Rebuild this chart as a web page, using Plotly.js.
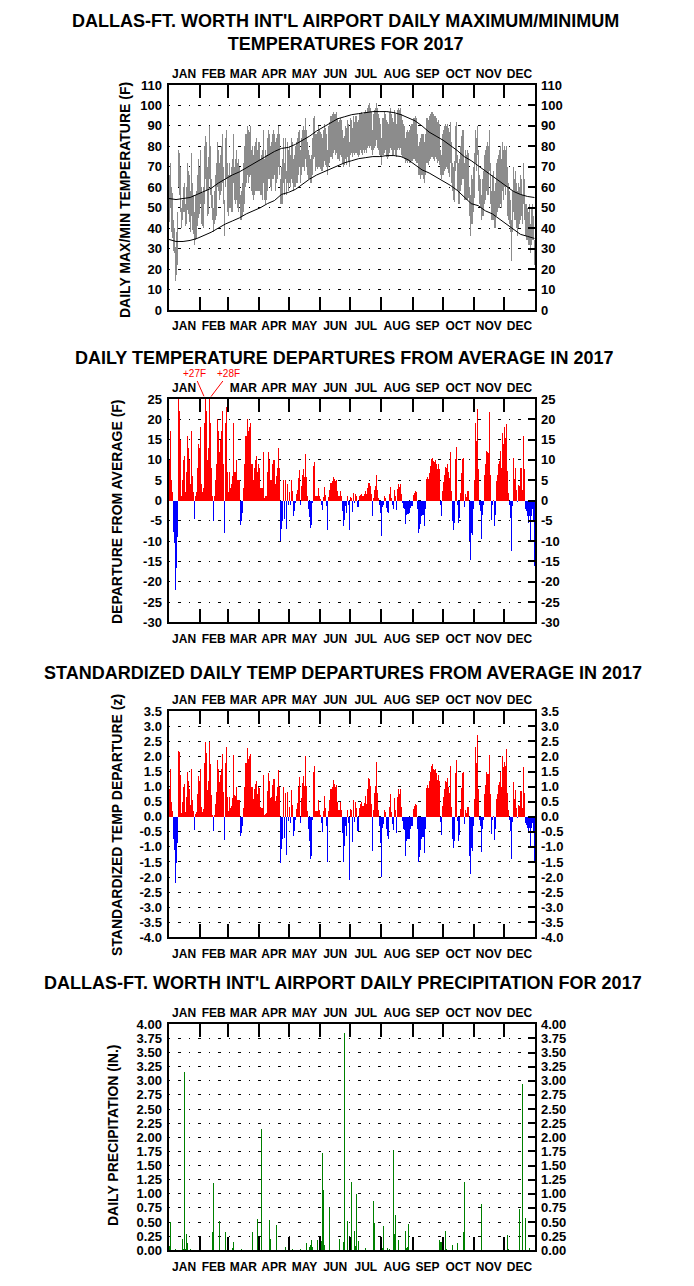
<!DOCTYPE html>
<html><head><meta charset="utf-8">
<script src="https://cdn.plot.ly/plotly-3.0.1.min.js"></script>
<style>html,body{margin:0;padding:0;background:#fff}#c{width:694px;height:1286px}</style>
</head><body><div id="c"></div>
<script>
// ---------- DATA ----------
const months = ['JAN','FEB','MAR','APR','MAY','JUN','JUL','AUG','SEP','OCT','NOV','DEC'];
const monthsPanel2Top = ['JAN','','MAR','APR','MAY','JUN','JUL','AUG','SEP','OCT','NOV','DEC'];
const monthMid = [16,45.5,75,105.5,136,166.5,197,228,258.5,289,319.5,350];
const monthEdge = [31.5,59.5,90.5,120.5,151.5,181.5,212.5,243.5,273.5,304.5,334.5];

// daily max / min temperature (F), Jan 1 .. Dec 31 2017
const tmax = [
66,72,60,57,44,40,31,38,48,78,77,70,50,54,60,62,52,60,72,68,66,58,77,62,56,48,56,58,66,74,70,
78,60,57,60,80,85,82,70,75,90,80,64,56,50,58,66,72,82,78,72,76,80,86,70,54,84,88,72,
66,72,66,70,74,86,70,74,78,72,74,70,56,58,62,72,80,86,86,90,88,87,90,78,80,76,80,82,84,78,82,
82,74,76,78,88,74,78,76,84,88,86,80,82,86,88,86,82,84,86,90,86,64,70,74,84,72,84,68,82,78,
80,76,84,82,74,76,80,82,84,87,88,78,84,88,90,88,94,88,82,78,76,74,76,84,94,95,86,86,87,90,88,
87,86,84,88,91,89,86,78,90,92,95,95,96,97,96,96,97,94,92,93,94,93,88,84,85,90,89,93,91,82,
94,93,89,95,92,95,95,92,93,96,96,97,96,96,97,98,97,99,100,101,99,97,88,96,98,99,101,99,96,94,91,
84,94,94,97,96,93,92,91,97,99,96,94,92,98,96,91,98,99,98,99,96,93,91,90,84,87,88,87,88,90,91,
94,94,95,94,86,80,82,84,86,86,86,82,86,94,94,93,95,96,97,97,96,95,95,94,92,93,91,78,76,86,
88,90,91,90,91,89,87,92,82,72,70,73,90,92,76,72,74,80,85,88,88,72,78,76,78,77,60,56,66,64,70,
77,88,84,90,78,66,64,56,64,68,76,78,80,82,80,88,72,58,66,68,58,62,72,74,76,78,80,74,82,78,
80,78,80,70,62,58,54,44,58,70,64,68,62,58,62,60,66,64,56,72,64,52,52,50,48,52,42,50,52,46,34];
const tmin = [
43,50,38,35,29,28,14,17,22,60,56,48,40,44,48,48,41,42,49,47,43,38,46,39,37,32,34,35,41,45,47,
52,42,41,40,52,64,58,46,47,64,56,50,44,38,42,44,46,60,58,54,56,58,62,52,36,60,64,48,
46,50,50,48,48,62,54,52,54,50,48,52,44,44,46,48,52,60,62,66,62,65,66,58,56,54,56,58,58,58,58,
58,56,56,54,62,54,52,54,58,64,64,60,58,64,64,66,58,62,64,70,66,52,52,52,62,56,64,56,62,58,
62,60,64,62,58,60,60,62,62,66,70,62,66,70,70,68,74,70,66,64,64,62,62,66,74,75,68,70,69,70,70,
69,68,68,70,73,71,70,66,70,72,75,75,74,77,78,76,77,74,74,73,76,75,72,70,71,74,71,75,73,70,
76,77,75,77,76,77,77,76,75,76,78,77,76,78,77,78,77,79,80,79,80,78,76,78,79,80,83,79,78,76,75,
71,76,76,77,78,75,74,75,77,79,78,76,76,78,76,75,78,79,78,79,76,75,75,74,72,73,72,73,72,72,73,
74,74,73,72,72,66,66,64,66,66,64,62,66,72,72,71,73,74,75,75,74,73,75,74,72,73,71,66,64,66,
66,68,69,70,69,67,65,72,62,58,54,53,68,72,58,52,52,58,61,64,64,54,54,54,54,55,46,36,42,42,48,
55,72,68,76,58,52,50,44,46,46,52,54,58,56,56,68,52,44,44,44,40,40,46,48,50,50,52,50,58,54,
60,56,60,46,44,42,38,24,38,48,44,44,40,36,40,42,44,46,42,52,44,36,34,34,32,32,28,32,34,34,22];

// normal max / min (F), read about weekly
const nDay = [1,8,15,22,29,36,43,50,57,64,71,78,85,92,99,106,113,120,127,134,141,148,155,162,169,176,183,190,197,204,211,218,225,232,239,246,253,260,267,274,281,288,295,302,309,316,323,330,337,344,351,358,365];
const nMax = [54.5,54,54.5,55,56.5,58,59.5,62,64,66,67.5,69.5,71.5,73.5,75.5,77.5,79,79.5,81,83,85,87.5,89.5,91.5,93.5,94.5,95.5,96,96.5,97,97,97,96.5,95.5,94,92.5,90,87,85,83,80.5,78,75,73,70.5,68,65.5,63,60.5,58,56.5,55.5,55];
const nMin = [34.5,33.5,33.5,34,35,36.5,38,40,42,43.5,45,47,48.5,50,52,53.5,56.5,57.5,59,61.5,64,66,67.5,69,70.5,72,73,74,74.5,75,75,75.5,75.5,75,73.5,71,68.5,67,65,63,61,58.5,55,52,51,48.5,47,44.5,42,39.5,37,36,35];

// daily departure from average (F)
const dep = [
10,17,5,2,-7.7,-10.4,-22,-16.6,-9,25,22,15,1,5,10,11,2,7,16,13,10,4,17,6,2,-4.5,1,2,8,14,13,
18,4,2,3,19,27,22,10,13,28,19,8,1,-5,1,5,9,20,17,12,15,17,22,9,-8,19,23,7,
2,7,3,4,6,19,7,7,10,5,5,5,-6,-5,-3,3,9,16,16,20,17,18,19,9,9,5,8,10,11,7,9,
8,3,3,3,12,0.5,1,1,7,12,10,5,5,9,10,10,4,6,8,13,8,-10,-7,-5,5,-4.5,5,-7,4,-1,
2,-1.2,5,2.3,-3.7,-2.6,-0.6,1.5,2.6,5.6,7.5,-1.2,3.5,6.4,7.7,5.8,11.4,5.8,1,-2.2,-4,-6.7,-6.1,-0.6,8.5,9.5,1,1,1,3.1,1.2,
0.3,-1,-2.4,0.9,3.3,1.4,-1.4,-7.2,0.9,2.7,4.4,4.4,4.8,5.8,5.2,4.8,5,2.3,1,1,2.3,1,-2.6,-6.3,-4.7,-1.4,-3,1,-1,-7.2,
0.9,0.7,-2.9,1.9,-0.6,1.7,1,-1.6,-1.6,1,1.4,1.7,1.2,1.2,1.6,2.3,1.5,3.1,4.4,4.2,3.5,1.5,-3.9,0.7,2.7,3.5,6.2,2.7,0.7,-1,-3,
-8.8,-1.6,-1,1,0.7,-1.8,-2.8,-3.2,1.5,3.4,0.7,-1,-2,2.7,1,-2.4,2.9,4,3.4,4.1,1.5,-0.6,-1.8,-2,-5.7,-3.5,-3.3,-3.3,-3.2,-1.8,-1.4,
1.4,1.9,2.3,2.1,-2.2,-8,-7,-5.9,-3.9,-3.5,-3.5,-6.3,-2.2,5.2,5.8,5.3,6.8,8.6,10.1,10.5,9.7,9.5,9.9,9.1,7.7,8.9,7.7,-1,-3.9,2.3,
4.5,6.4,8.3,8,8.9,7,5.6,11.9,2.3,-5.1,-7.2,-5.5,10.1,13.3,-1,-5.5,-4.3,1.9,6.7,10.1,10.5,-1.6,1.7,0.8,2.3,2.3,-10,-14.7,-8,-8.6,-2.2,
5,19.2,14.7,22.6,7.7,-1,-2.6,-9.6,-3.5,-1,6.4,8.9,12.2,11.9,11.8,21.8,6.4,-4.7,-1,0.2,-6.3,-3.5,4.8,6.4,8.9,9.7,12.2,8.1,16.7,13.8,
18,15.5,18.8,7.2,1.9,-1,-4.3,-12.5,-1.4,10.5,5.3,8.1,2.7,-0.4,3.7,3.5,8.1,8.1,2.7,15.9,7.7,-2.2,-2.6,-3.9,-5.5,-3.7,-10,-3.9,-2.2,-5,-16.2];

// standardized daily departure (z)
const zdep = [
0.92,1.6,0.49,0.2,-0.73,-1.09,-2.19,-1.53,-0.86,2.17,2.14,1.4,0.12,0.5,0.98,1.08,0.15,0.65,1.5,1.2,0.92,0.4,1.6,0.55,0.2,-0.43,0.1,0.15,0.75,1.35,1.2,
1.6,0.33,0.15,0.25,1.78,2.48,2.1,0.88,1.2,2.48,1.74,0.72,0.07,-0.46,0.07,0.42,0.82,1.88,1.6,1.15,1.4,1.6,2.07,0.82,-0.76,1.8,2.3,0.65,
0.2,0.65,0.3,0.35,0.62,2.04,0.72,0.7,1.0,0.55,0.55,0.55,-0.63,-0.55,-0.29,0.3,0.98,1.78,1.78,2.27,1.93,2.0,2.07,1.0,1.0,0.58,0.92,1.1,1.2,0.75,1.0,
0.95,0.32,0.3,0.3,1.38,0.05,0.09,0.12,0.85,1.45,1.2,0.62,0.65,1.05,1.25,1.25,0.52,0.68,1.0,1.55,0.98,-1.52,-1.06,-0.73,1.0,-0.7,0.8,-1.26,0.82,-0.15,
0.32,-0.21,0.88,0.40,-0.65,-0.46,-0.11,0.26,0.46,0.98,1.32,-0.21,0.61,1.12,1.35,1.02,2.0,1.02,0.18,-0.39,-0.8,-1.4,-1.3,-0.11,1.49,1.67,0.18,0.18,0.18,0.54,0.21,
0.06,-0.21,-0.50,0.19,0.69,0.29,-0.29,-1.50,0.19,0.56,0.92,0.92,1.0,1.21,1.08,1.0,1.04,0.48,0.21,0.21,0.48,0.21,-0.54,-1.5,-0.98,-0.29,-0.63,0.21,-0.21,-2.1,
0.26,0.21,-0.85,0.56,-0.18,0.50,0.29,-0.47,-0.47,0.29,0.41,0.50,0.35,0.35,0.47,0.68,0.44,0.91,1.29,1.24,1.03,0.44,-1.15,0.21,0.79,1.03,1.82,0.79,0.21,-0.29,-0.88,
-2.0,-0.36,-0.23,0.23,0.16,-0.41,-0.64,-0.73,0.34,0.77,0.16,-0.23,-0.45,0.61,0.23,-0.55,0.66,0.91,0.77,0.93,0.34,-0.14,-0.41,-0.45,-1.30,-0.80,-0.75,-0.75,-0.73,-0.41,-0.32,
0.26,0.36,0.43,0.40,-0.42,-1.51,-1.32,-1.11,-0.74,-0.66,-0.66,-1.19,-0.41,0.95,1.05,0.96,1.2,1.5,1.7,1.75,1.6,1.55,1.6,1.45,1.22,1.4,1.2,-0.16,-0.6,0.35,
0.64,0.91,1.19,1.14,1.27,1.0,0.8,1.7,0.33,-0.73,-1.03,-0.79,1.44,1.9,-0.14,-0.79,-0.61,0.27,0.96,1.44,1.5,-0.23,0.24,0.11,0.33,0.33,-1.3,-1.9,-1.05,-1.12,-0.29,
0.6,2.31,1.77,2.72,0.93,-0.12,-0.31,-1.16,-0.42,-0.12,0.77,1.07,1.47,1.43,1.42,2.05,0.77,-0.57,-0.12,0.02,-0.76,-0.42,0.58,0.77,1.07,1.17,1.47,0.98,2.01,1.66,
1.83,1.7,2.24,0.8,0.21,-0.11,-0.48,-1.39,-0.16,1.17,0.59,0.9,0.3,-0.04,0.4,0.37,0.85,0.85,0.28,1.65,0.8,-0.22,-0.26,-0.38,-0.53,-0.36,-0.97,-0.38,-0.21,-0.48,-1.55];

// daily precipitation (in.), days with measurable rain
const pDay = [1,2,7,14,15,16,17,18,19,22,44,45,51,57,64,65,73,84,89,93,101,102,108,117,121,124,132,138,141,142,143,144,149,153,154,155,156,161,171,175,176,179,183,186,187,188,190,197,205,206,214,215,219,221,225,226,227,230,237,238,239,240,270,271,272,276,277,283,288,294,295,304,312,338,339,350,353,356,360];
const pIn = [0.07,0.50,0.02,0.20,0.02,3.16,0.02,0.29,0.13,0.02,0.32,1.19,0.52,0.32,0.04,0.15,0.02,0.32,0.55,2.15,0.54,0.20,0.45,0.06,0.02,0.02,0.02,0.13,0.06,0.09,0.18,0.06,0.18,0.17,1.72,1.07,0.09,0.75,0.20,0.15,3.85,0.52,1.21,0.34,0.08,1.00,0.17,0.04,0.87,0.48,0.04,0.43,0.04,0.02,1.78,0.29,0.63,0.18,0.34,0.04,0.06,0.47,0.18,0.15,0.15,0.34,0.02,0.09,0.13,0.32,1.21,0.04,0.82,0.27,0.02,0.73,2.94,0.57,0.04];

// axis tick values
const p1Ticks = [0,10,20,30,40,50,60,70,80,90,100,110];
const p2Ticks = [-30,-25,-20,-15,-10,-5,0,5,10,15,20,25];
const p3Ticks = [-4,-3.5,-3,-2.5,-2,-1.5,-1,-0.5,0,0.5,1,1.5,2,2.5,3,3.5];
const p4Ticks = [0,0.25,0.5,0.75,1,1.25,1.5,1.75,2,2.25,2.5,2.75,3,3.25,3.5,3.75,4];

// ---------- CHART ----------
const W = 694, H = 1286;
const F = "'Liberation Sans',Arial,sans-serif";
const days = tmax.map((_, i) => i + 1);
const XD = [168.5 / W, 535 / W];
const yd = (top, bot) => [1 - bot / H, 1 - top / H];
const tickFont = {family: F, size: 13, color: '#000', weight: 'bold'};
const monFont = {family: F, size: 12, color: '#000', weight: 'bold'};

const panels = [
  {top: 85, bot: 310, range: [0, 110], tv: p1Ticks, tt: p1Ticks.map(String), topText: months},
  {top: 399, bot: 622.3, range: [-30, 25], tv: p2Ticks, tt: p2Ticks.map(String), topText: monthsPanel2Top},
  {top: 711.3, bot: 937.3, range: [-4, 3.5], tv: p3Ticks, tt: p3Ticks.map(v => v.toFixed(1)), topText: months},
  {top: 1024.3, bot: 1250.3, range: [0, 4], tv: p4Ticks, tt: p4Ticks.map(v => v.toFixed(2)), topText: months}
];

const layout = {
  width: W, height: H, margin: {l: 0, r: 0, t: 0, b: 0},
  paper_bgcolor: '#fff', plot_bgcolor: '#fff', showlegend: false,
  bargap: 0, barmode: 'overlay', font: {family: F, color: '#000'},
  annotations: []
};
const traces = [];
const ax = n => (n === 1 ? '' : String(n));

panels.forEach((p, i) => {
  const a = 2 * i + 1, b = a + 1;
  const minor = {tickmode: 'array', tickvals: monthEdge, ticks: 'inside', ticklen: 13, tickwidth: 2, tickcolor: '#000', showgrid: false};
  layout['xaxis' + ax(a)] = {
    domain: XD, anchor: 'y' + ax(a), range: [0.5, 365.5], tickmode: 'array',
    tickvals: monthMid, ticktext: months, ticks: '', tickangle: 0, showgrid: false, zeroline: false,
    showline: true, linecolor: '#000', linewidth: 2, mirror: true, tickfont: monFont,
    ticklabelstandoff: 4, minor: minor, fixedrange: true
  };
  layout['xaxis' + b] = {
    overlaying: 'x' + ax(a), side: 'top', anchor: 'y' + ax(a), range: [0.5, 365.5],
    tickmode: 'array', tickvals: monthMid, ticktext: p.topText, ticks: '', tickangle: 0, showgrid: false,
    zeroline: false, showline: false, tickfont: monFont, ticklabelstandoff: 4, minor: minor, fixedrange: true
  };
  layout['yaxis' + ax(a)] = {
    domain: yd(p.top, p.bot), anchor: 'x' + ax(a), range: p.range, tickmode: 'array',
    tickvals: p.tv, ticktext: p.tt, ticks: '', showgrid: true, gridcolor: '#000', gridwidth: 1,
    griddash: '1px,8px,3px,8px', zeroline: false, showline: true, linecolor: '#000', linewidth: 2,
    mirror: true, tickfont: tickFont, ticklabelstandoff: 2, fixedrange: true
  };
  layout['yaxis' + b] = {
    overlaying: 'y' + ax(a), side: 'right', anchor: 'x' + ax(a), range: p.range, tickmode: 'array',
    tickvals: p.tv, ticktext: p.tt, ticks: 'inside', ticklen: 7, tickwidth: 2, tickcolor: '#000',
    showgrid: false, zeroline: false, showline: false, tickfont: tickFont, ticklabelstandoff: 5, fixedrange: true
  };
  traces.push({type: 'scatter', x: [], y: [], xaxis: 'x' + b, yaxis: 'y' + ax(a), hoverinfo: 'skip'});
  traces.push({type: 'scatter', x: [], y: [], xaxis: 'x' + ax(a), yaxis: 'y' + b, hoverinfo: 'skip'});
});

// Panel 1: daily range bars + normals
traces.push({type: 'bar', x: days, base: tmin, y: tmax.map((v, i) => v - tmin[i]), width: 1,
  marker: {color: '#8c8c8c', line: {width: 0}}, xaxis: 'x', yaxis: 'y', hoverinfo: 'skip'});
traces.push({type: 'scatter', mode: 'lines', x: nDay, y: nMax, line: {color: '#000', width: 1}, xaxis: 'x', yaxis: 'y', hoverinfo: 'skip'});
traces.push({type: 'scatter', mode: 'lines', x: nDay, y: nMin, line: {color: '#000', width: 1}, xaxis: 'x', yaxis: 'y', hoverinfo: 'skip'});
// Panel 2: departures
traces.push({type: 'bar', x: days, y: dep, width: 1,
  marker: {color: dep.map(v => v >= 0 ? '#ff0000' : '#0000ff'), line: {width: 0}}, xaxis: 'x3', yaxis: 'y3', hoverinfo: 'skip'});
// Panel 3: standardized departures
traces.push({type: 'bar', x: days, y: zdep, width: 1,
  marker: {color: zdep.map(v => v >= 0 ? '#ff0000' : '#0000ff'), line: {width: 0}}, xaxis: 'x5', yaxis: 'y5', hoverinfo: 'skip'});
// Panel 4: precipitation
traces.push({type: 'bar', x: pDay, y: pIn, width: 1,
  marker: {color: '#008000', line: {width: 0}}, xaxis: 'x7', yaxis: 'y7', hoverinfo: 'skip'});

// titles
const titleFont = {family: F, size: 18, color: '#000', weight: 'bold'};
const addText = (text, xpx, ypx, font, extra) => layout.annotations.push(Object.assign({
  text: text, xref: 'paper', yref: 'paper', x: xpx / W, y: 1 - ypx / H,
  xanchor: 'center', yanchor: 'middle', showarrow: false, font: font
}, extra || {}));
addText("DALLAS-FT. WORTH INT'L AIRPORT DAILY MAXIMUM/MINIMUM<br>TEMPERATURES FOR 2017", 345, 33, titleFont);
addText('DAILY TEMPERATURE DEPARTURES FROM AVERAGE IN 2017', 344, 358, titleFont);
addText('STANDARDIZED DAILY TEMP DEPARTURES FROM AVERAGE IN 2017', 343, 673, titleFont);
addText("DALLAS-FT. WORTH INT'L AIRPORT DAILY PRECIPITATION FOR 2017", 343, 983, titleFont);
// y-axis titles
const yTitleFont = {family: F, size: 14, color: '#000', weight: 'bold'};
addText('DAILY MAX/MIN TEMPERATURE (F)', 125, 200, yTitleFont, {textangle: -90});
addText('DEPARTURE FROM AVERAGE (F)', 117, 511, yTitleFont, {textangle: -90});
addText('STANDARDIZED TEMP DEPARTURE (z)', 117, 825, yTitleFont, {textangle: -90});
addText('DAILY PRECIPITATION (IN.)', 113, 1135, yTitleFont, {textangle: -90});
// off-scale labels
const redFont = {family: F, size: 10, color: '#ff0000'};
layout.annotations.push({text: '+27F', xref: 'x3', yref: 'y3', x: 37, y: 25, ax: -11, ay: -25,
  showarrow: true, arrowhead: 0, arrowwidth: 1, arrowcolor: '#ff0000', standoff: 3, font: redFont});
layout.annotations.push({text: '+28F', xref: 'x3', yref: 'y3', x: 41, y: 25, ax: 19, ay: -25,
  showarrow: true, arrowhead: 0, arrowwidth: 1, arrowcolor: '#ff0000', standoff: 3, font: redFont});

Plotly.newPlot('c', traces, layout, {staticPlot: true, displayModeBar: false});
</script>
</body></html>
